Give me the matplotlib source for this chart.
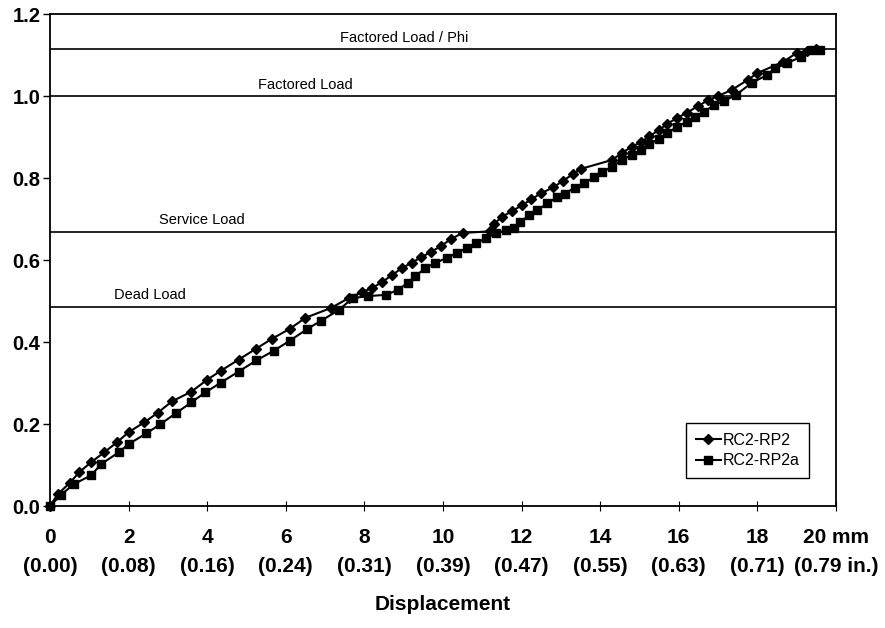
import matplotlib
matplotlib.use("Agg")
import matplotlib.pyplot as plt
import numpy as np

plt.rcParams['font.family'] = ['Liberation Sans', 'DejaVu Sans']

# RC2-RP2 (diamonds): displacement in mm, load ratio
rp2_x = [0.0, 0.2, 0.5, 0.75, 1.05, 1.38, 1.7, 2.0, 2.4, 2.75, 3.1, 3.6, 4.0, 4.35,
         4.8, 5.25, 5.65, 6.1, 6.5, 7.15, 7.6, 7.95, 8.2, 8.45, 8.7, 8.95, 9.2, 9.45,
         9.7, 9.95, 10.2, 10.5, 11.2, 11.3, 11.5, 11.75, 12.0, 12.25, 12.5, 12.8,
         13.05, 13.3, 13.5, 14.3, 14.55, 14.8, 15.05, 15.25, 15.5, 15.7, 15.95, 16.2,
         16.5, 16.75, 17.0, 17.35, 17.75, 18.0, 18.65, 19.0, 19.25, 19.5]
rp2_y = [0.0, 0.029, 0.056, 0.083, 0.107, 0.131, 0.155, 0.180, 0.204, 0.228, 0.255,
         0.279, 0.308, 0.330, 0.357, 0.384, 0.408, 0.432, 0.459, 0.483, 0.507, 0.522,
         0.532, 0.546, 0.563, 0.580, 0.593, 0.607, 0.620, 0.634, 0.651, 0.666, 0.670,
         0.688, 0.705, 0.719, 0.733, 0.748, 0.763, 0.777, 0.793, 0.809, 0.822, 0.844,
         0.861, 0.876, 0.888, 0.902, 0.917, 0.932, 0.946, 0.959, 0.976, 0.990, 1.000,
         1.015, 1.039, 1.056, 1.083, 1.105, 1.110, 1.115]

# RC2-RP2a (squares)
rp2a_x = [0.0, 0.28, 0.6, 1.05, 1.3, 1.75, 2.0, 2.45, 2.8, 3.2, 3.6, 3.95, 4.35, 4.8,
          5.25, 5.7, 6.1, 6.55, 6.9, 7.35, 7.7, 8.1, 8.55, 8.85, 9.1, 9.3, 9.55, 9.8,
          10.1, 10.35, 10.6, 10.85, 11.1, 11.35, 11.6, 11.8, 11.95, 12.2, 12.4, 12.65,
          12.9, 13.1, 13.35, 13.6, 13.85, 14.05, 14.3, 14.55, 14.8, 15.05, 15.25, 15.5,
          15.7, 15.95, 16.2, 16.4, 16.65, 16.9, 17.15, 17.45, 17.85, 18.25, 18.45,
          18.75, 19.1, 19.4, 19.6]
rp2a_y = [0.0, 0.027, 0.053, 0.075, 0.102, 0.131, 0.151, 0.177, 0.199, 0.226, 0.253,
          0.277, 0.301, 0.328, 0.355, 0.379, 0.403, 0.432, 0.452, 0.478, 0.507, 0.512,
          0.515, 0.527, 0.544, 0.561, 0.580, 0.593, 0.605, 0.617, 0.629, 0.641, 0.654,
          0.666, 0.672, 0.678, 0.692, 0.709, 0.721, 0.738, 0.753, 0.762, 0.776, 0.788,
          0.802, 0.815, 0.827, 0.844, 0.856, 0.868, 0.883, 0.895, 0.910, 0.924, 0.937,
          0.949, 0.962, 0.978, 0.988, 1.002, 1.032, 1.051, 1.068, 1.080, 1.095, 1.113,
          1.112]

# reference load levels
load_names = ["Factored Load / Phi", "Factored Load", "Service Load", "Dead Load"]
load_levels = [1.115, 1.0, 0.668, 0.485]
label_x = [9.02, 6.51, 3.86, 2.55]
label_y = [1.141, 1.027, 0.698, 0.515]

x_ticks = [0, 2, 4, 6, 8, 10, 12, 14, 16, 18, 20]
x_labels = ["0\n(0.00)", "2\n(0.08)", "4\n(0.16)", "6\n(0.24)", "8\n(0.31)",
            "10\n(0.39)", "12\n(0.47)", "14\n(0.55)", "16\n(0.63)", "18\n(0.71)",
            "20 mm\n(0.79 in.)"]
y_ticks = [0.0, 0.2, 0.4, 0.6, 0.8, 1.0, 1.2]

fig = plt.figure(figsize=(8.85, 6.28), dpi=100)
ax = fig.add_axes([50 / 885, 1 - 506 / 628, 786 / 885, 492 / 628])

for lv in load_levels:
    ax.axhline(lv, color='black', lw=1.2, zorder=1)
for name, tx, ty in zip(load_names, label_x, label_y):
    ax.text(tx, ty, name, ha='center', va='center', fontsize=10.5)

ax.plot(rp2_x, rp2_y, color='black', lw=1.5, marker='D', ms=5,
        label='RC2-RP2', clip_on=False, zorder=3)
ax.plot(rp2a_x, rp2a_y, color='black', lw=1.5, marker='s', ms=5.5,
        label='RC2-RP2a', clip_on=False, zorder=3)

ax.set_xlim(0, 20)
ax.set_ylim(0, 1.2)
ax.set_xticks(x_ticks)
ax.set_xticklabels(x_labels, fontsize=15, fontweight='bold', linespacing=1.7)
ax.set_yticks(y_ticks)
ax.set_yticklabels(["%.1f" % v for v in y_ticks], fontsize=14.5, fontweight='bold')
ax.tick_params(axis='x', direction='inout', length=7, width=0.8, pad=12)
ax.tick_params(axis='y', direction='out', length=5, width=1, pad=2)
for sp in ax.spines.values():
    sp.set_linewidth(1.3)

ax.set_xlabel("Displacement", fontsize=15, fontweight='bold', labelpad=14)

leg = ax.legend(loc='lower right', bbox_to_anchor=(0.966, 0.057), borderaxespad=0,
                fontsize=11.5, handlelength=1.6, handletextpad=0.1, borderpad=0.6,
                labelspacing=0.35, fancybox=False, framealpha=1, edgecolor='black')
leg.get_frame().set_linewidth(1.0)

fig.savefig("out.png", dpi=100)
